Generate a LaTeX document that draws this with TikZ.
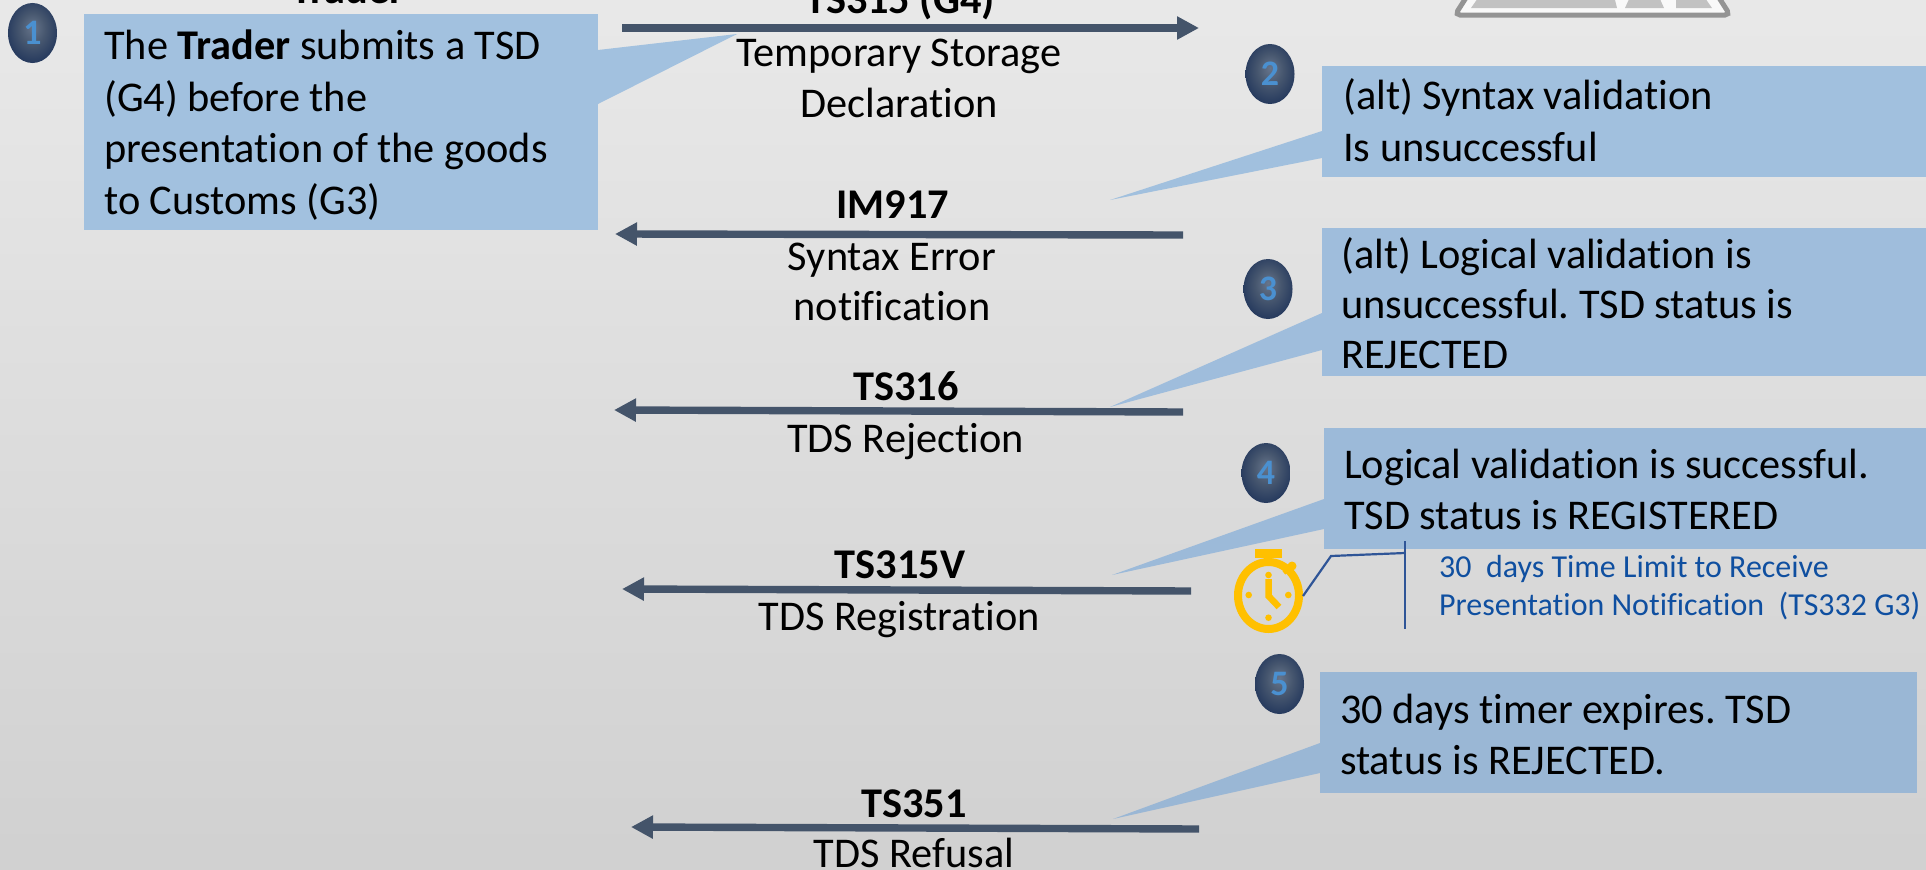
\documentclass[tikz,border=0pt]{standalone}
\usepackage{fontspec}
\setmainfont[Ligatures=NoCommon]{Carlito}
\usetikzlibrary{arrows.meta,shapes.geometric}
\definecolor{arrowblue}{HTML}{44546A}
\definecolor{boxa}{HTML}{A2C1DF}
\definecolor{boxb}{HTML}{A1C0DE}
\definecolor{boxc}{HTML}{9FBDDC}
\definecolor{boxd}{HTML}{9CBAD9}
\definecolor{boxe}{HTML}{9AB7D5}
\definecolor{digitblue}{HTML}{4A90D0}
\definecolor{notegold}{HTML}{FFC000}
\definecolor{leader}{HTML}{2F5597}
\definecolor{notetext}{HTML}{0F4FA0}
\definecolor{bglow}{HTML}{67758B}
\definecolor{bgmid}{HTML}{47576F}
\definecolor{bgrim}{HTML}{263A5E}
\pgfdeclareradialshading{badgeball}{\pgfpoint{0bp}{5bp}}{color(0bp)=(bglow); color(13bp)=(bgmid); color(27bp)=(bgrim); color(50bp)=(bgrim)}
\newcommand{\leftblock}[2]{\vtop{\baselineskip=#1bp #2}}
\newcommand{\ctrrow}[1]{\hbox to 500bp{\hfil #1\hfil}}
\frenchspacing
\tikzset{
  msgarrow/.style={draw=arrowblue,line width=7.4bp,-{Triangle[length=22bp,width=22bp]}},
  plate/.style={anchor=north west,inner sep=0pt,minimum width=#1},
  txt/.style={inner sep=0pt,font=\fontsize{42.5}{50}\selectfont},
  txtl/.style={txt,anchor=base west},
  txtc/.style={txt,anchor=base},
  txtb/.style={txtc,font=\fontsize{42.5}{50}\selectfont\bfseries},
  badge/.style={ellipse,inner sep=0pt,minimum width=49bp,minimum height=60bp,
    shading=badgeball,text=digitblue,font=\fontsize{36}{40}\selectfont\bfseries},
  watch/.style={draw=notegold,line width=8bp},
  lead/.style={draw=leader,line width=2.2bp},
}
\begin{document}
\begin{tikzpicture}[x=1bp,y=-1bp]
\useasboundingbox (0,0) rectangle (1926,870);
\clip (0,0) rectangle (1926,870);
% background: linear vertical grey gradient, one band per grey level
\foreach \i in {0,...,23}{
  \pgfmathsetmacro{\bandg}{(232-\i)/255}
  \pgfmathsetmacro{\bandy}{\i*36.25}
  \definecolor{bandc}{gray}{\bandg}
  \fill[bandc] (0,\bandy) rectangle (1926,870);
}

% keyboard
\draw[draw=black!42,line width=5bp,fill=white!95!gray,rounded corners=5bp] (1490,-40) -- (1455,15) -- (1730,15) -- (1695,-40) -- cycle;
\fill[black!24] (1485,-12) -- (1612,-12) -- (1617,8) -- (1471,8) -- cycle;
\fill[black!24] (1634,-12) -- (1655,-12) -- (1664,8) -- (1625,8) -- cycle;
\fill[black!24] (1676,-12) -- (1698,-12) -- (1712,8) -- (1676,8) -- cycle;

% callouts
\coordinate (tip1) at (737,34);
\coordinate (tip2) at (1110,200);
\coordinate (tip3) at (1110,407);
\coordinate (tip4) at (1112,575);
\coordinate (tip5) at (1113,819);
\node[plate=514bp,minimum height=216bp,fill=boxa] (b1) at (84,14) {};
\fill[boxa] (598,50) -- (tip1) -- (598,104) -- cycle;
\node[plate=604bp,minimum height=111bp,fill=boxb] (b2) at (1322,66) {};
\fill[boxb] (1322,131) -- (tip2) -- (1322,158) -- cycle;
\node[plate=604bp,minimum height=148bp,fill=boxc] (b3) at (1322,228) {};
\fill[boxc] (1322,313) -- (tip3) -- (1322,350) -- cycle;
\node[plate=602bp,minimum height=121bp,fill=boxd] (b4) at (1324,428) {};
\fill[boxd] (1324,499) -- (tip4) -- (1324,529) -- cycle;
\node[plate=597bp,minimum height=121bp,fill=boxe] (b5) at (1320,672) {};
\fill[boxe] (1320,743) -- (tip5) -- (1320,773) -- cycle;

% box text
\node[txtl] (t1) at (104,59.5) {\leftblock{51.7}{\hbox{The \textbf{Trader} submits a TSD}\hbox{(G4) before the}\hbox{presentation of the goods}\hbox{to Customs (G3)}}};
\node[txtl] (t2) at (1343,109) {\leftblock{52}{\hbox{(alt) Syntax validation}\hbox{Is unsuccessful}}};
\node[txtl] (t3) at (1341,268) {\leftblock{50}{\hbox{(alt) Logical validation is}\hbox{unsuccessful. TSD status is}\hbox{REJECTED}}};
\node[txtl] (t4) at (1344,478.5) {\leftblock{51}{\hbox{Logical validation is successful.}\hbox{TSD status is REGISTERED}}};
\node[txtl] (t5) at (1340,723.5) {\leftblock{51}{\hbox{30 days timer expires. TSD}\hbox{status is REJECTED.}}};

% arrows
\coordinate (a1s) at (622,28);  \coordinate (a1e) at (1199,28);
\coordinate (a2s) at (1183,235); \coordinate (a2e) at (615,234);
\coordinate (a3s) at (1183,412); \coordinate (a3e) at (614,410);
\coordinate (a4s) at (1191,591); \coordinate (a4e) at (622,589);
\coordinate (a5s) at (1199,829); \coordinate (a5e) at (631,827);
\draw[msgarrow] (a1s) -- (a1e);
\draw[msgarrow] (a2s) -- (a2e);
\draw[msgarrow] (a3s) -- (a3e);
\draw[msgarrow] (a4s) -- (a4e);
\draw[msgarrow] (a5s) -- (a5e);

% labels
\node[txtb] (trader) at (348,3.5) {Trader};
\node[txtb] (l1) at (900,13.5) {TS315 (G4)};
\node[txtc] (d1) at (899,66.5) {\leftblock{51}{\ctrrow{Temporary Storage}\ctrrow{Declaration}}};
\node[txtb] (l2) at (893,218) {IM917};
\node[txtc] (d2) at (892,270.5) {\leftblock{50}{\ctrrow{Syntax Error}\ctrrow{notification}}};
\node[txtb] (l3) at (906,400) {TS316};
\node[txtc] (d3) at (905.5,452) {TDS Rejection};
\node[txtb] (l4) at (900,578) {TS315V};
\node[txtc] (d4) at (899,630) {TDS Registration};
\node[txtb] (l5) at (914,817.5) {TS351};
\node[txtc] (d5) at (914,867.5) {TDS Refusal};

% badges
\node[badge] (n1) at (32.5,33) {1};
\node[badge] (n2) at (1270,74) {2};
\node[badge] (n3) at (1268,289) {3};
\node[badge] (n4) at (1266,473) {4};
\node[badge] (n5) at (1279.5,684) {5};

% stopwatch
\fill[notegold] (1255,549) rectangle (1282,558);
\fill[notegold] (1264,557) rectangle (1272,564);
\draw[draw=notegold,line width=4bp] (1284,573) -- (1292,566);
\fill[notegold] (1292,566) circle (4.5bp);
\draw[watch] (1268.5,595.5) ellipse (30.5bp and 33.5bp);
\draw[draw=notegold,line width=6.5bp] (1268.5,579) -- (1268.5,596) -- (1279,607);
\foreach \p in {(1268.5,575),(1288.3,595),(1268.5,617.7),(1248.7,595)} \fill[notegold] \p circle (3.3bp);

% note
\coordinate (w1) at (1303,596);
\coordinate (w2) at (1331,556);
\coordinate (w3) at (1405,553);
\coordinate (v1) at (1405,541);
\coordinate (v2) at (1405,629);
\draw[lead] (w1) -- (w2) -- (w3);
\draw[lead] (v1) -- (v2);
\node[inner sep=0pt,anchor=base west,text=notetext,font=\fontsize{32.1}{36}\selectfont] (note) at (1439,577) {\leftblock{38}{\hbox{30\ \ days Time Limit to Receive}\hbox{Presentation Notification\ \ (TS332 G3)}}};
\end{tikzpicture}
\end{document}
